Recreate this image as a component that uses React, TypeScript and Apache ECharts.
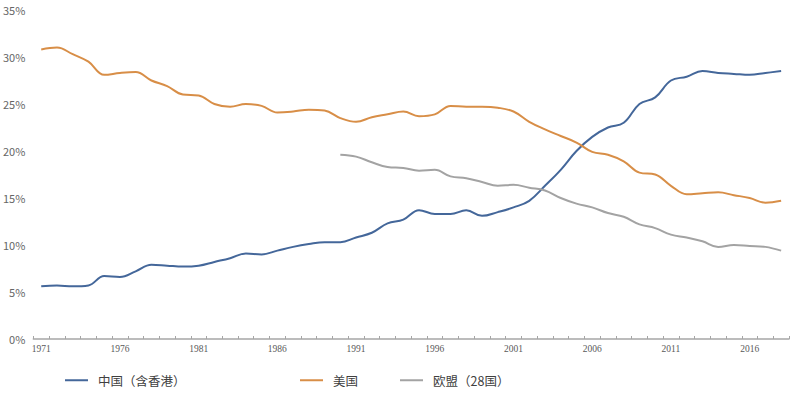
import React, { useEffect, useRef } from "react";
import * as echarts from "echarts";

const years: string[] = [];
for (let y = 1971; y <= 2018; y++) years.push(String(y));

const chinaName = "中国（含香港）";
const usName = "美国";
const euName = "欧盟（28国）";

const china = [
  5.6, 5.7, 5.6, 5.7, 6.7, 6.6, 7.2, 7.9, 7.8, 7.7,
  7.8, 8.2, 8.6, 9.1, 9.0, 9.4, 9.8, 10.1, 10.3, 10.3,
  10.8, 11.3, 12.3, 12.7, 13.7, 13.3, 13.3, 13.7, 13.1, 13.5,
  14.0, 14.7, 16.3, 18.0, 20.0, 21.5, 22.5, 23.0, 25.0, 25.7,
  27.5, 27.9, 28.5, 28.3, 28.2, 28.1, 28.3, 28.5,
];
const us = [
  30.8, 31.0, 30.3, 29.5, 28.1, 28.3, 28.4, 27.5, 26.9, 26.0,
  25.9, 25.0, 24.7, 25.0, 24.8, 24.1, 24.2, 24.4, 24.3, 23.5,
  23.1, 23.6, 23.9, 24.2, 23.7, 23.9, 24.8, 24.7, 24.7, 24.6,
  24.2, 23.1, 22.3, 21.6, 20.9, 19.9, 19.6, 18.9, 17.7, 17.5,
  16.3, 15.4, 15.5, 15.6, 15.3, 15.0, 14.5, 14.7,
];
const eu: (number | null)[] = [
  null, null, null, null, null, null, null, null, null, null,
  null, null, null, null, null, null, null, null, null, 19.6,
  19.4, 18.8, 18.3, 18.2, 17.9, 18.0, 17.3, 17.1, 16.7, 16.3,
  16.4, 16.1, 15.8, 15.0, 14.4, 14.0, 13.4, 13.0, 12.2, 11.8,
  11.1, 10.8, 10.4, 9.8, 10.0, 9.9, 9.8, 9.4,
];

const COLORS = { china: "#44679a", us: "#d88e47", eu: "#a3a3a3" };

export default function App() {
  const ref = useRef<HTMLDivElement>(null);
  useEffect(() => {
    if (!ref.current) return;
    const chart = echarts.init(ref.current, undefined, { renderer: "svg" });
    const font = "'Noto Sans CJK SC', 'Noto Sans', sans-serif";
    const legendBase = {
      top: 372,
      icon: "rect",
      itemWidth: 23,
      itemHeight: 2,
      itemGap: 0,
      padding: 2,
      textStyle: { fontSize: 12.5, color: "#404040", fontFamily: font, padding: [0, 0, 0, 5] },
    };
    chart.setOption({
      animation: false,
      backgroundColor: "#ffffff",
      grid: { left: 33, right: 11, top: 10, bottom: 54, containLabel: false },
      legend: [
        { ...legendBase, left: 63, data: [chinaName] },
        { ...legendBase, left: 298, data: [usName] },
        { ...legendBase, left: 398, data: [euName] },
      ],
      xAxis: {
        type: "category",
        data: years,
        boundaryGap: true,
        axisLine: { lineStyle: { color: "#a6a6a6", width: 1.5 } },
        axisTick: { show: true, inside: true, length: 3, lineStyle: { color: "#a6a6a6" }, interval: 0 },
        axisLabel: {
          interval: 4,
          fontSize: 9.5,
          color: "#595959",
          fontFamily: "'Liberation Serif', serif",
          margin: 5,
        },
        splitLine: { show: false },
      },
      yAxis: {
        type: "value",
        min: 0,
        max: 35,
        interval: 5,
        axisLine: { show: false },
        axisTick: { show: false },
        splitLine: { show: false },
        axisLabel: {
          formatter: "{value}%",
          fontSize: 11,
          color: "#666666",
          fontFamily: font,
          margin: 8,
        },
      },
      series: [
        {
          name: chinaName,
          type: "line",
          data: china,
          smooth: 0.4,
          symbol: "none",
          lineStyle: { color: COLORS.china, width: 2 },
          itemStyle: { color: COLORS.china },
        },
        {
          name: usName,
          type: "line",
          data: us,
          smooth: 0.4,
          symbol: "none",
          lineStyle: { color: COLORS.us, width: 2 },
          itemStyle: { color: COLORS.us },
        },
        {
          name: euName,
          type: "line",
          data: eu,
          smooth: 0.4,
          symbol: "none",
          lineStyle: { color: COLORS.eu, width: 2 },
          itemStyle: { color: COLORS.eu },
        },
      ],
    });
    return () => chart.dispose();
  }, []);
  return <div ref={ref} style={{ width: 800, height: 393, position: "absolute", left: 0, top: 0 }} />;
}
